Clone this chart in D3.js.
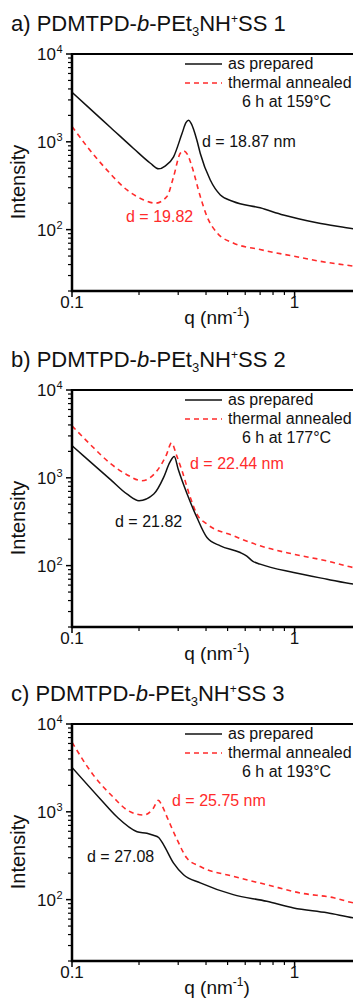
<!DOCTYPE html>
<html>
<head>
<meta charset="utf-8">
<script src="https://cdn.jsdelivr.net/npm/d3@7"></script>
<style>
  body { margin: 0; background: #fff; }
  text { font-family: "Liberation Sans", Arial, sans-serif; }
</style>
</head>
<body>
<div id="chart"></div>
<script>
// ---- data (q in nm^-1, intensity a.u.) ----
// panel a) SS 1
var aPrepQ = [0.1, 0.12, 0.149, 0.189, 0.225, 0.245, 0.262, 0.286, 0.312, 0.325, 0.334, 0.343, 0.364, 0.377, 0.418, 0.464, 0.53, 0.70, 0.89, 1.26, 1.84, 2.0];
var aPrepI = [3670, 2400, 1457, 840, 570, 492, 530, 675, 1241, 1650, 1758, 1620, 1042, 737, 367, 248, 209, 177, 147, 120, 102, 98];
var aAnnQ = [0.1, 0.117, 0.1437, 0.1766, 0.21, 0.237, 0.267, 0.286, 0.306, 0.317, 0.330, 0.346, 0.377, 0.404, 0.448, 0.53, 0.70, 0.99, 1.30, 1.84, 2.0];
var aAnnI = [1500, 880, 476, 283, 218, 200, 238, 401, 737, 789, 720, 520, 238, 141, 92, 70.5, 59.3, 49.8, 43.6, 38.3, 37];
// panel b) SS 2
var bPrepQ = [0.1, 0.113, 0.149, 0.177, 0.2, 0.233, 0.258, 0.275, 0.288, 0.30, 0.329, 0.364, 0.404, 0.464, 0.57, 0.61, 0.65, 0.70, 0.99, 1.40, 1.84, 2.0];
var bPrepI = [2323, 1768, 955, 650, 548, 653, 1012, 1500, 1750, 1250, 653, 353, 209, 168, 141, 128, 112, 104, 83.4, 70, 61.5, 60];
var bAnnQ = [0.1, 0.125, 0.149, 0.175, 0.206, 0.241, 0.265, 0.280, 0.295, 0.312, 0.34, 0.364, 0.404, 0.53, 0.70, 0.99, 1.40, 1.84, 2.0];
var bAnnI = [3900, 2200, 1450, 1100, 927, 1205, 1800, 2500, 1800, 1205, 598, 386, 297, 219, 168, 135, 113, 95, 92];
// panel c) SS 3
var cPrepQ = [0.1, 0.134, 0.159, 0.196, 0.217, 0.232, 0.245, 0.258, 0.286, 0.317, 0.377, 0.53, 0.75, 0.99, 1.40, 1.84, 2.0];
var cPrepI = [3200, 1400, 877, 594, 569, 540, 510, 420, 260, 192, 155, 114, 95.7, 80.5, 70.8, 62, 60];
var cAnnQ = [0.1, 0.125, 0.154, 0.177, 0.21, 0.232, 0.244, 0.255, 0.267, 0.297, 0.328, 0.377, 0.53, 0.75, 1.06, 1.50, 1.84, 2.0];
var cAnnI = [6200, 2600, 1450, 1046, 918, 1100, 1350, 1150, 877, 478, 297, 238, 184, 148, 119, 105, 92, 90];

var panelLetters = ["a)", "b)", "c)"];
var sampleNos = ["1", "2", "3"];
var annealTemps = ["159°C", "177°C", "193°C"];
var prepPeakLabels = ["d = 18.87 nm", "d = 21.82", "d = 27.08"];
var annPeakLabels = ["d = 19.82", "d = 22.44 nm", "d = 25.75 nm"];
var yMajor = [100, 1000, 10000];
var xMajor = [0.1, 1];

var W = 353, H = 1003;
var red = "#ff2b2b";
var left = 72, plotH = 237, decade = 222.6;

// layout per panel (pixel placement only)
var panels = [
  { top: 54, prepQ: aPrepQ, prepI: aPrepI, annQ: aAnnQ, annI: aAnnI,
    prepLab: [202, 93], annLab: [126, 168] },
  { top: 390, prepQ: bPrepQ, prepI: bPrepI, annQ: bAnnQ, annI: bAnnI,
    prepLab: [115, 137], annLab: [190, 79] },
  { top: 724, prepQ: cPrepQ, prepI: cPrepI, annQ: cAnnQ, annI: cAnnI,
    prepLab: [87, 138], annLab: [172, 82] }
];

var svg = d3.select("#chart").append("svg")
  .attr("width", W).attr("height", H);

var x = d3.scaleLog().domain([0.1, 2]).range([left, left + decade * Math.log10(20)]);

var xMinor = [];
[0.1, 1].forEach(function (b) { for (var k = 2; k <= 9; k++) xMinor.push(b * k); });
xMinor = xMinor.filter(function (v) { return v <= 2; });
var yMinor = [];
[10, 100, 1000].forEach(function (b) { for (var k = 2; k <= 9; k++) yMinor.push(b * k); });
yMinor = yMinor.filter(function (v) { return v >= 20; });

panels.forEach(function (p, i) {
  var g = svg.append("g");
  var y = d3.scaleLog().domain([20, 1e4]).range([p.top + plotH, p.top]);
  var bottom = p.top + plotH;

  // title
  var t = g.append("text").attr("x", 11).attr("y", p.top - 23)
    .style("font-size", "22px").attr("fill", "#111");
  t.append("tspan").text(panelLetters[i] + " PDMTPD-");
  t.append("tspan").style("font-style", "italic").text("b");
  t.append("tspan").text("-PEt");
  t.append("tspan").style("font-size", "13px").attr("dy", 5).text("3");
  t.append("tspan").attr("dy", -5).text("NH");
  t.append("tspan").style("font-size", "12px").attr("dy", -8).text("+");
  t.append("tspan").attr("dy", 8).text("SS " + sampleNos[i]);

  // clip
  var cid = "clip" + i;
  g.append("clipPath").attr("id", cid).append("rect")
    .attr("x", left).attr("y", p.top).attr("width", W - left).attr("height", plotH);

  var line = d3.line()
    .x(function (d) { return x(d[0]); })
    .y(function (d) { return y(d[1]); })
    .curve(d3.curveMonotoneX);

  g.append("path")
    .datum(d3.zip(p.annQ, p.annI))
    .attr("clip-path", "url(#" + cid + ")")
    .attr("d", line).attr("fill", "none")
    .attr("stroke", red).attr("stroke-width", 1.6)
    .attr("stroke-dasharray", "5,4");

  g.append("path")
    .datum(d3.zip(p.prepQ, p.prepI))
    .attr("clip-path", "url(#" + cid + ")")
    .attr("d", line).attr("fill", "none")
    .attr("stroke", "#111").attr("stroke-width", 1.5);

  // axes frame
  g.append("line").attr("x1", left).attr("x2", W).attr("y1", p.top).attr("y2", p.top)
    .attr("stroke", "#000").attr("stroke-width", 2.2);
  g.append("line").attr("x1", left).attr("x2", W).attr("y1", bottom).attr("y2", bottom)
    .attr("stroke", "#000").attr("stroke-width", 2.5);
  g.append("line").attr("x1", left).attr("x2", left).attr("y1", p.top - 1).attr("y2", bottom + 1.2)
    .attr("stroke", "#000").attr("stroke-width", 2.5);

  // y ticks
  g.selectAll(".ymin").data(yMinor).enter().append("line")
    .attr("x1", left - 4).attr("x2", left).attr("y1", function (d) { return y(d); })
    .attr("y2", function (d) { return y(d); }).attr("stroke", "#000").attr("stroke-width", 1.2);
  g.selectAll(".ymaj").data(yMajor).enter().append("line")
    .attr("x1", left - 6).attr("x2", left).attr("y1", function (d) { return y(d); })
    .attr("y2", function (d) { return y(d); }).attr("stroke", "#000").attr("stroke-width", 1.5);
  yMajor.forEach(function (v) {
    g.append("text").attr("x", 56).attr("y", y(v) + 6)
      .attr("text-anchor", "end").style("font-size", "17px").attr("fill", "#111")
      .text("10");
    g.append("text").attr("x", 56.5).attr("y", y(v) - 1)
      .style("font-size", "11px").attr("fill", "#111").text(Math.round(Math.log10(v)));
  });

  // x ticks
  g.selectAll(".xmin").data(xMinor).enter().append("line")
    .attr("x1", function (d) { return x(d); }).attr("x2", function (d) { return x(d); })
    .attr("y1", bottom).attr("y2", bottom + 4).attr("stroke", "#000").attr("stroke-width", 1.2);
  g.selectAll(".xmaj").data(xMajor).enter().append("line")
    .attr("x1", function (d) { return x(d); }).attr("x2", function (d) { return x(d); })
    .attr("y1", bottom).attr("y2", bottom + 6).attr("stroke", "#000").attr("stroke-width", 1.5);
  g.selectAll(".xlab").data(xMajor).enter().append("text")
    .attr("x", function (d) { return x(d); }).attr("y", bottom + 17)
    .attr("text-anchor", "middle").style("font-size", "17px").attr("fill", "#111")
    .text(function (d) { return d === 1 ? "1" : "0.1"; });

  // axis titles
  var xt = g.append("text").attr("x", 217).attr("y", bottom + 33)
    .attr("text-anchor", "middle").style("font-size", "19px").attr("fill", "#111");
  xt.append("tspan").text("q (nm");
  xt.append("tspan").style("font-size", "12px").attr("dy", -8).text("-1");
  xt.append("tspan").attr("dy", 8).text(")");

  g.append("text")
    .attr("transform", "translate(25," + (p.top + 128) + ") rotate(-90)")
    .attr("text-anchor", "middle").style("font-size", "20px").attr("fill", "#111")
    .text("Intensity");

  // legend
  g.append("line").attr("x1", 185).attr("x2", 222).attr("y1", p.top + 10).attr("y2", p.top + 10)
    .attr("stroke", "#111").attr("stroke-width", 1.3);
  g.append("text").attr("x", 228).attr("y", p.top + 15).style("font-size", "16px")
    .attr("fill", "#111").text("as prepared");
  g.append("line").attr("x1", 185).attr("x2", 222).attr("y1", p.top + 29).attr("y2", p.top + 29)
    .attr("stroke", red).attr("stroke-width", 1.4).attr("stroke-dasharray", "5,4");
  g.append("text").attr("x", 228).attr("y", p.top + 34).style("font-size", "16px")
    .attr("fill", "#111").text("thermal annealed");
  g.append("text").attr("x", 242).attr("y", p.top + 53).style("font-size", "16px")
    .attr("fill", "#111").text("6 h at " + annealTemps[i]);

  // peak labels
  g.append("text").attr("x", p.prepLab[0]).attr("y", p.top + p.prepLab[1])
    .style("font-size", "16px").attr("fill", "#111").text(prepPeakLabels[i]);
  g.append("text").attr("x", p.annLab[0]).attr("y", p.top + p.annLab[1])
    .style("font-size", "16px").attr("fill", red).text(annPeakLabels[i]);
});
</script>
</body>
</html>
